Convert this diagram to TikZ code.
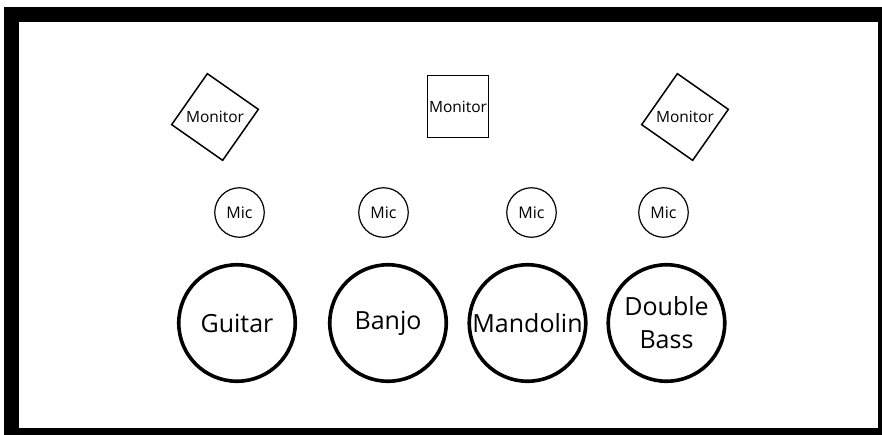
\documentclass[tikz,border=0pt]{standalone}
\usepackage{fontspec}
\setmainfont{Open Sans}

\begin{document}
\begin{tikzpicture}[x=1pt,y=-1pt,
    monitor/.style={inner sep=0pt,font=\fontsize{15.5}{18}\selectfont},
    mic/.style={circle,draw,line width=1.2pt,minimum size=49.5pt,inner sep=0pt,font=\fontsize{16}{19}\selectfont},
    instrument/.style={circle,draw,line width=3.6pt,minimum size=116.5pt,inner sep=0pt,align=center,font=\fontsize{25}{33}\selectfont}]
    \useasboundingbox (0,0) rectangle (882,434);
    \clip (0,0) rectangle (882,434);
    % stage frame
    \fill (4,7) rectangle (890,440);
    \fill[white] (19,22) rectangle (878,428);
    % monitors
    \node[monitor] (monL) at (215,117) {Monitor};
    \node[monitor] (monM) at (458,106.5) {Monitor};
    \node[monitor] (monR) at (685,117) {Monitor};
    \draw[line width=1.5pt] (monM.center) ++(-30.5,-31) rectangle ++(61,62);
    \foreach \m in {monL,monR}
        \draw[line width=1.5pt] ([shift={(10:44pt)}]\m.center) -- ([shift={(100:44pt)}]\m.center)
            -- ([shift={(190:44pt)}]\m.center) -- ([shift={(280:44pt)}]\m.center) -- cycle;
    % mics
    \foreach \x/\n in {239.5/1,383.5/2,531.5/3,663.5/4}
        \node[mic] (mic\n) at (\x,212.5) {Mic};
    % instruments
    \node[instrument] (guitar) at (237,323) {Guitar};
    \node[instrument] (banjo) at (388,323) {Banjo};
    \node[instrument] (mandolin) at (527.5,323) {Mandolin};
    \node[instrument] (bass) at (666.5,323) {Double\\Bass};
\end{tikzpicture}
\end{document}
